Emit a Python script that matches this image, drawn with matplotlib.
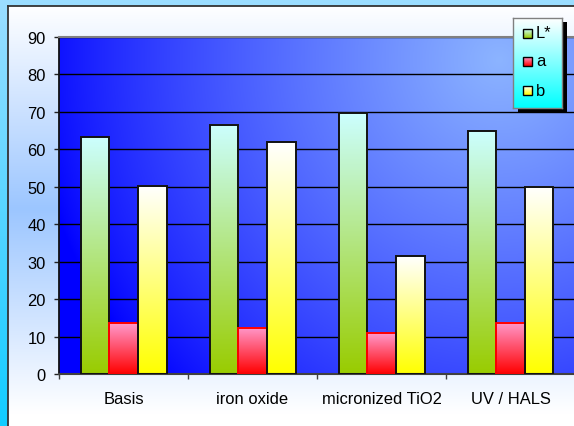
import numpy as np
import matplotlib
matplotlib.use("Agg")
import matplotlib.pyplot as plt
from matplotlib.colors import LinearSegmentedColormap, to_rgb
from matplotlib.patches import Rectangle

# ---- data ----
categories = ["Basis", "iron oxide", "micronized TiO2", "UV / HALS"]
series_names = ["L*", "a", "b"]
L_values = [63.2, 66.5, 69.7, 64.8]
a_values = [13.6, 12.3, 10.9, 13.7]
b_values = [50.3, 61.9, 31.4, 50.0]
y_ticks = [0, 10, 20, 30, 40, 50, 60, 70, 80, 90]

# ---- styling ----
plt.rcParams["font.family"] = ["Liberation Sans", "DejaVu Sans"]
FS = 11.9
bar_gradients = [("#CCFFFF", "#99CC00"), ("#FF99CC", "#FF0000"), ("#FFFFFF", "#FFFF00")]
bar_edges = ["#111111", "#FF0000", "#111111"]

W, H, DPI = 574, 427, 100
fig = plt.figure(figsize=(W / DPI, H / DPI), dpi=DPI)


def px_axes(x0, y0, x1, y1):
    """Axes placed by a pixel box measured from the top-left corner."""
    a = fig.add_axes([x0 / W, 1 - y1 / H, (x1 - x0) / W, (y1 - y0) / H])
    return a


def blend(c0, c1, t):
    c0, c1 = np.array(to_rgb(c0)), np.array(to_rgb(c1))
    return c0 + np.asarray(t)[..., None] * (c1 - c0)


# outer backdrop
bg = px_axes(0, 0, W, H)
rows = np.linspace(0, 1, 200)
bg.imshow(blend("#9CDEFF", "#11CCFF", rows)[:, None, :], aspect="auto",
          extent=(0, 1, 0, 1), origin="upper")
bg.set_axis_off()

# chart area with soft vertical glow
ca = px_axes(8, 7, W + 20, H + 20)
yy = np.linspace(7, H + 20, 300)
t = np.clip(1 - np.abs(yy - 210) / 205, 0, 1)
ca.imshow(blend("#FFFFFF", "#9CC6FF", t)[:, None, :], aspect="auto",
          extent=(0, 1, 0, 1), origin="upper")
ca.set_xticks([]); ca.set_yticks([])
for s in ("right", "bottom"):
    ca.spines[s].set_visible(False)
for s in ("left", "top"):
    ca.spines[s].set_color("#333333")
    ca.spines[s].set_linewidth(1.3)

# plot area
ax = px_axes(59, 38, 575, 375)
xmin, xmax, ymin, ymax = -0.5, len(categories) - 0.5, 0, 90
gx, gy = np.meshgrid(np.linspace(59, 575, 300), np.linspace(375, 38, 200))
f = np.clip(1 - np.hypot(gx - 500, gy - 60) / 470, 0, 1) ** 0.8
ax.imshow(blend("#0000FF", "#8CB4FF", f), extent=(xmin, xmax, ymin, ymax),
          origin="lower", aspect="auto", zorder=0)

ax.set_axisbelow(True)
ax.yaxis.grid(True, color="black", linewidth=1.0)

w = 1 / 4.5
x = np.arange(len(categories))
for i, vals in enumerate([L_values, a_values, b_values]):
    cmap = LinearSegmentedColormap.from_list(f"g{i}", list(bar_gradients[i]))
    bars = ax.bar(x + (i - 1) * w, vals, w, facecolor="none",
                  edgecolor=bar_edges[i], linewidth=1.4, zorder=3)
    for bar in bars:
        bx, by = bar.get_x(), bar.get_y()
        bw, bh = bar.get_width(), bar.get_height()
        ax.imshow(np.linspace(0, 1, 256)[:, None], cmap=cmap,
                  extent=(bx, bx + bw, by, by + bh), origin="upper",
                  aspect="auto", zorder=2)

ax.set_xlim(xmin, xmax)
ax.set_ylim(ymin, ymax)
ax.set_yticks(y_ticks)
ax.set_xticks(x)
ax.set_xticklabels(categories)
ax.set_xticks(np.arange(xmin, xmax + 0.01, 1), minor=True)
ax.tick_params(axis="x", which="major", length=0, pad=12.3, labelsize=FS)
ax.tick_params(axis="x", which="minor", length=3.6, width=1, color="#404040")
ax.tick_params(axis="y", length=3.6, width=1, pad=6, labelsize=FS, color="#222222")
ax.spines["right"].set_visible(False)
ax.spines["left"].set_color("#111111")
ax.spines["left"].set_linewidth(1.3)
ax.spines["bottom"].set_color("#404040")
ax.spines["bottom"].set_linewidth(1.5)
ax.spines["top"].set_color("#808080")
ax.spines["top"].set_linewidth(1.5)

# legend with drop shadow
sh = px_axes(518, 23, 567, 113)
sh.set_facecolor("black")
sh.set_xticks([]); sh.set_yticks([])
for s in sh.spines.values():
    s.set_visible(False)

lg = px_axes(513, 19, 562, 109)
lg.imshow(blend("#FFFFFF", "#00FFFF", np.linspace(0, 1, 200))[:, None, :],
          extent=(513, 562, 109, 19), aspect="auto", origin="upper")
lg.set_xticks([]); lg.set_yticks([])
for s in lg.spines.values():
    s.set_color("#808080")
    s.set_linewidth(1.0)

for i, (name, yc) in enumerate(zip(series_names, [34, 62, 91])):
    cmap = LinearSegmentedColormap.from_list(f"m{i}", list(bar_gradients[i]))
    lg.imshow(np.linspace(0, 1, 64)[:, None], cmap=cmap,
              extent=(523, 532, yc + 4.5, yc - 4.5), origin="upper", aspect="auto")
    lg.add_patch(Rectangle((523, yc - 4.5), 9, 9, facecolor="none",
                           edgecolor="black", linewidth=1.0))
    lg.text(536, yc, name, fontsize=FS, va="center", ha="left")
lg.set_xlim(513, 562)
lg.set_ylim(109, 19)

fig.savefig("out.png", dpi=DPI)
